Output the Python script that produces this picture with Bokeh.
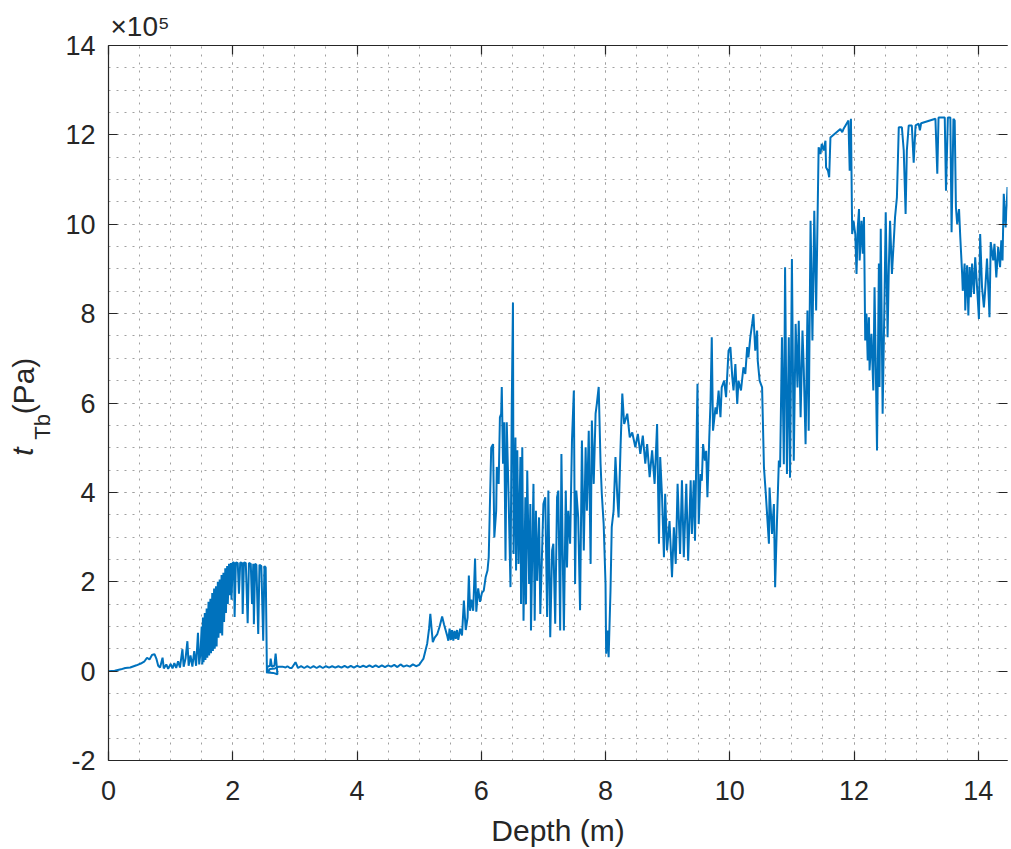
import numpy as np
from bokeh.plotting import figure
from bokeh.layouts import row
from bokeh.models import Range1d, LinearAxis, FixedTicker, ColumnDataSource, Title
from bokeh.core.properties import value
from bokeh.embed import file_html
from bokeh.resources import INLINE

# ---- data (depth in m, stress in 1e5 Pa) ----
d1 = [0.00,0.10,0.20,0.27,0.35,0.45,0.52,0.58,0.62,0.66,0.70,0.74,0.77,0.80,0.83,0.87,0.89,0.93,0.96,1.00,
      1.03,1.06,1.09,1.12,1.15,1.19,1.21,1.24,1.27,1.29,1.32,1.35,1.38,1.41,1.44,1.46,1.48]
t1 = [0.00,0.01,0.04,0.07,0.08,0.13,0.17,0.22,0.30,0.26,0.36,0.38,0.28,0.12,0.08,0.30,0.06,0.15,0.05,0.16,
      0.06,0.18,0.07,0.22,0.08,0.49,0.10,0.28,0.67,0.12,0.35,0.10,0.45,0.12,0.86,0.15,0.40]

d2 = [1.50,1.51,1.52,1.53,1.55,1.56,1.58,1.59,1.61,1.62,1.64,1.65,1.67,1.68,1.70,1.71,1.73,1.74,1.76,1.77,
      1.79,1.80,1.82,1.83,1.85,1.86,1.88,1.89,1.91,1.92,1.94,1.95,1.97,1.98,2.00,2.02,2.03,2.05,2.08,2.10,
      2.12,2.15,2.16,2.18,2.21,2.24,2.26,2.29,2.31,2.33,2.34,2.36,2.38,2.41,2.43,2.46,2.49,2.51,2.53,2.55]
t2 = [1.00,0.15,1.20,0.20,1.30,0.25,1.40,0.30,1.55,0.35,1.62,0.40,1.75,0.45,1.85,0.50,1.90,0.55,2.00,0.75,
      2.05,0.85,2.15,0.80,2.20,1.10,2.30,1.30,2.35,1.50,2.40,1.70,2.42,1.60,2.43,2.43,1.21,2.43,2.42,1.73,
      2.43,2.42,1.28,2.43,2.42,1.07,2.42,2.40,1.50,2.40,1.05,2.40,2.38,0.83,2.38,2.35,0.68,2.35,2.32,-0.05]

d3 = [2.56,2.60,2.61,2.63,2.67,2.69,2.71,2.72,2.65,2.56,2.60,2.68,2.74,2.80,2.85,2.88,2.92]
t3 = [0.10,0.12,0.28,0.10,0.12,0.39,0.08,-0.07,-0.04,-0.03,0.05,0.06,0.10,0.10,0.08,0.11,0.07]

d4 = [2.95,3.01,3.05,3.10,3.15,3.20,3.25,3.30,3.35,3.40,3.45,3.50,3.55,3.60,3.65,3.70,3.75,3.80,3.85,3.90,
      3.95,4.00,4.05,4.10,4.15,4.20,4.25,4.30,4.35,4.40,4.45,4.50,4.55,4.60,4.65,4.70,4.75,4.80,4.85,4.90,
      4.95,5.00]
t4 = [0.07,0.20,0.07,0.11,0.07,0.11,0.07,0.11,0.07,0.11,0.07,0.11,0.08,0.11,0.08,0.11,0.08,0.12,0.08,0.12,
      0.08,0.12,0.09,0.12,0.09,0.13,0.09,0.13,0.09,0.13,0.09,0.13,0.10,0.14,0.09,0.15,0.10,0.13,0.10,0.15,
      0.11,0.14]

d5 = [5.04,5.07,5.10,5.13,5.16,5.18,5.20,5.22,5.25,5.29,5.33,5.37,5.40,5.42,5.45,5.47,5.49,5.51,5.53,5.55,
      5.57,5.59,5.61,5.63,5.66,5.69,5.72,5.75,5.78,5.80,5.82,5.84,5.87,5.90,5.92,5.95,5.98,6.01,6.04,6.07,
      6.10,6.12]
t5 = [0.22,0.28,0.45,0.62,0.95,1.28,0.95,0.65,0.75,0.82,1.00,1.22,1.05,0.95,0.80,0.68,0.95,0.70,0.92,0.68,
      0.90,0.72,0.92,0.70,0.95,0.80,1.58,0.92,1.20,2.14,1.35,1.60,1.35,2.52,1.33,1.85,1.55,1.75,1.80,2.10,
      2.25,2.55]

d6 = [6.16,6.19,6.21,6.24,6.25,6.28,6.30,6.32,6.33,6.35,6.37,6.39,6.41,6.44,6.47,6.49,6.51,6.52,6.55,6.56,
      6.58,6.60,6.63,6.64,6.66,6.68,6.71,6.72,6.74,6.77,6.79,6.80,6.84,6.86,6.88,6.90,6.93,6.95,6.97,7.00,
      7.03,7.06,7.08,7.11,7.14,7.16,7.19,7.22,7.24,7.27,7.29,7.31,7.33,7.36,7.38,7.40,7.43,7.46,7.49,7.51,
      7.53,7.56,7.59,7.62,7.65,7.68,7.70,7.73,7.76,7.78,7.81,7.84,7.86,7.89,7.92,7.94,7.97,8.00,8.01,8.03,
      8.05,8.08,8.10,8.13,8.16,8.19,8.21,8.24,8.27]
t6 = [5.00,5.08,2.99,3.59,4.57,4.19,5.68,5.76,6.36,4.64,5.57,2.47,5.57,3.89,1.88,5.83,8.25,2.62,5.23,2.25,
      4.94,2.40,4.79,1.50,5.01,1.13,3.89,1.50,4.49,1.95,3.74,0.91,4.19,1.13,3.59,2.02,3.44,1.28,2.25,3.74,
      3.89,1.21,4.04,0.76,2.70,2.85,1.06,3.89,4.04,0.91,4.86,2.70,0.91,4.04,2.32,3.59,2.85,5.16,6.28,1.95,
      4.04,3.44,1.36,5.16,2.70,5.01,3.59,5.38,2.40,5.61,4.19,5.76,5.98,6.36,4.64,3.97,3.29,1.95,0.39,0.91,
      0.31,1.80,3.22,3.59,4.79,3.89,3.44,4.94,6.21]

d7 = [8.30,8.35,8.39,8.43,8.48,8.52,8.56,8.60,8.64,8.67,8.71,8.75,8.79,8.83,8.86,8.88,8.91,8.94,8.96,8.99,
      9.03,9.07,9.10,9.13,9.16,9.20,9.23,9.26,9.30,9.33,9.37,9.39,9.42,9.44,9.48,9.50]
t7 = [5.53,5.76,5.23,5.34,5.01,5.31,4.86,5.27,4.64,5.08,4.34,4.94,4.19,5.53,2.85,4.79,3.89,2.55,3.97,2.70,
      3.36,2.10,3.22,2.40,4.19,2.62,4.27,2.55,4.19,2.47,4.27,3.07,4.27,2.92,6.43,3.29]

d8 = [9.53,9.55,9.57,9.60,9.62,9.64,9.67,9.69,9.71,9.73,9.77,9.79,9.82,9.85,9.87,9.91,9.94,9.98,10.01,10.04,
      10.06,10.09,10.12,10.14,10.18,10.22,10.25,10.28,10.30,10.33,10.36,10.38,10.41,10.44,10.45,10.48,10.52,
      10.55,10.58,10.60,10.63,10.64,10.68,10.71,10.73,10.76,10.79,10.81,10.84,10.87,10.89,10.92,10.95,10.97,
      11.00,11.03,11.06,11.09,11.11,11.14,11.17,11.19,11.22,11.25,11.27,11.30,11.33,11.36,11.39]
t8 = [4.41,4.26,5.08,4.71,4.93,3.89,5.23,6.02,7.47,5.38,5.90,5.75,6.28,5.68,6.35,6.50,6.13,7.17,7.25,6.58,
      6.28,6.87,5.98,6.50,6.28,6.80,6.65,7.25,7.02,7.47,7.77,7.99,7.17,7.62,6.95,6.50,6.35,
      4.56,3.96,3.52,2.85,4.11,3.07,3.74,1.88,3.37,4.71,4.56,7.47,4.63,9.04,4.41,7.47,4.33,
      9.22,4.71,7.77,6.35,7.84,5.68,7.62,6.80,5.08,8.07,5.38,10.08,7.40,10.30,8.07]

d9 = [11.43,11.46,11.48,11.51,11.54,11.55,11.58,11.60,11.62,11.78,11.81,11.83,11.91,11.93,11.95,11.97,11.99,
      12.02,12.04,12.06,12.08,12.09,12.12,12.14,12.16,12.18,12.20,12.22,12.24,12.25,12.28,12.31,12.33,12.35,
      12.37,12.40,12.41,12.43,12.46,12.49,12.51,12.54,12.56,12.58,12.61,12.64,12.66,12.69,12.72,12.77,12.80,
      12.83,12.85,12.88,12.93,12.96,12.99,13.04,13.06,13.08,13.31,13.34,13.36,13.46,13.48,13.51,13.55,13.57,
      13.60,13.62,13.64,13.66,13.69,13.71,13.74,13.75,13.78,13.79,13.82,13.84,13.86,13.88,13.90,13.93,13.95,
      13.98,14.01,14.03,14.06,14.09,14.11,14.14,14.17,14.18,14.20,14.24,14.26,14.29,14.32,14.35,14.37,14.39,
      14.41,14.44,14.47,14.50,14.52]
t9 = [11.72,11.57,11.80,11.65,11.87,11.27,11.20,11.05,11.94,12.13,12.06,12.13,12.32,11.20,12.36,9.78,10.08,
      9.78,8.89,9.93,10.34,9.19,10.08,9.34,10.16,7.40,8.00,6.95,7.92,6.73,7.55,6.28,8.59,6.80,
      4.94,9.12,6.36,9.90,5.76,8.29,10.27,7.47,9.04,10.08,8.89,9.64,10.16,10.60,12.17,12.17,11.65,
      10.23,11.65,12.21,12.21,11.38,12.21,12.25,12.10,12.26,12.36,11.13,12.39,12.39,10.75,12.39,12.39,9.82,
      12.36,12.32,10.38,10.01,10.34,9.71,8.89,8.51,9.12,8.07,9.08,7.96,9.04,8.37,9.12,8.44,9.26,
      8.59,7.88,9.78,8.59,8.14,8.51,9.23,8.29,7.92,9.60,9.19,9.56,8.81,9.49,9.04,9.64,9.19,
      10.68,9.93,10.83,10.16,10.75]

x_ticks = [0, 2, 4, 6, 8, 10, 12, 14]
y_ticks = [-2, 0, 2, 4, 6, 8, 10, 12, 14]

depth = d1 + d2 + d3 + d4 + d5 + d6 + d7 + d8 + d9
tau = t1 + t2 + t3 + t4 + t5 + t6 + t7 + t8 + t9
src = ColumnDataSource(dict(depth=depth, tau=tau))

AX = "#262626"
FONT = "Liberation Sans"
LABEL_W = 60
TOTAL_W, TOTAL_H = 1011, 849

# ---------- main plot ----------
p = figure(width=TOTAL_W - LABEL_W, height=TOTAL_H, output_backend="svg", toolbar_location=None,
           x_range=Range1d(0, 14.47), y_range=Range1d(-2, 14),
           min_border_left=108 - LABEL_W, min_border_right=0, min_border_top=45, min_border_bottom=89)
p.margin = 0
p.background_fill_color = "white"
p.border_fill_color = "white"
p.outline_line_color = None

x_minor = [i * 0.5 for i in range(0, 30)]
y_minor = [-2 + i * 0.5 for i in range(0, 33)]
xt = FixedTicker(ticks=x_ticks, minor_ticks=x_minor)
yt = FixedTicker(ticks=y_ticks, minor_ticks=y_minor)

p.xaxis.ticker = xt
p.yaxis.ticker = yt
p.yaxis.major_label_overrides = {-2: "-2"}

def style_axis(ax, labels=True, ticks=None):
    ax.axis_line_color = AX
    ax.axis_line_width = 1.2
    ax.major_tick_line_color = AX
    ax.major_tick_line_width = 1.2
    ax.major_tick_in = 9
    ax.major_tick_out = 0
    ax.minor_tick_line_color = None
    ax.major_label_text_font = FONT
    ax.major_label_text_color = AX
    if labels:
        ax.major_label_text_font_size = "27px"
    else:
        ax.major_label_overrides = {t: "" for t in ticks}
        ax.major_label_text_font_size = "0px"
        ax.major_label_standoff = 0

for ax in p.xaxis:
    style_axis(ax)
    ax.major_label_standoff = 16
    ax.axis_label = "Depth (m)"
    ax.axis_label_text_font = FONT
    ax.axis_label_text_font_size = "30px"
    ax.axis_label_text_font_style = "normal"
    ax.axis_label_text_color = AX
    ax.axis_label_standoff = 11
for ax in p.yaxis:
    style_axis(ax)
    ax.major_label_standoff = 9

top_ax = LinearAxis(ticker=xt)
style_axis(top_ax, labels=False, ticks=x_ticks)
p.add_layout(top_ax, "above")
right_ax = LinearAxis(ticker=yt)
style_axis(right_ax, labels=False, ticks=y_ticks)
right_ax.axis_line_color = None
p.add_layout(right_ax, "right")

# exponent marker above the axes
p.add_layout(Title(text="\u00d710\u2075", align="left", offset=2, standoff=0,
                   text_font=FONT, text_font_size="28px", text_font_style="normal",
                   text_color=AX), "above")

for g in (p.xgrid, p.ygrid):
    g.grid_line_color = "#a0a0a0"
    g.grid_line_dash = "2 6"
    g.grid_line_width = 1
    g.minor_grid_line_color = "#a0a0a0"
    g.minor_grid_line_dash = "2 6"
    g.minor_grid_line_width = 1
p.xgrid.ticker = xt
p.ygrid.ticker = yt

p.line("depth", "tau", source=src, line_color="#0072BD", line_width=2)

# ---------- y-axis label panel: t_Tb (Pa) ----------
lab = figure(width=LABEL_W, height=TOTAL_H, output_backend="svg", toolbar_location=None,
             x_axis_location=None, y_axis_location=None,
             x_range=Range1d(0, LABEL_W), y_range=Range1d(TOTAL_H, 0),
             min_border=0, min_border_left=0, min_border_right=0, min_border_top=0, min_border_bottom=0)
lab.margin = 0
lab.grid.visible = False
lab.outline_line_color = None
lab.background_fill_color = "white"
lab.border_fill_color = "white"

ang = np.pi / 2
lab.text(x=[22], y=[487], text=["t"], angle=ang, text_font=value(FONT), text_font_size=value("30px"),
         text_font_style=value("italic"), text_color=AX, text_baseline="alphabetic", text_align="left")
lab.text(x=[42], y=[468], text=["Tb"], angle=ang, text_font=value(FONT), text_font_size=value("22px"),
         text_color=AX, text_baseline="alphabetic", text_align="left")
lab.text(x=[23], y=[438], text=["(Pa)"], angle=ang, text_font=value(FONT), text_font_size=value("30px"),
         text_color=AX, text_baseline="alphabetic", text_align="left")

layout = row(lab, p, spacing=0)
layout.margin = 0

open("out.html", "w").write(file_html(layout, INLINE))
